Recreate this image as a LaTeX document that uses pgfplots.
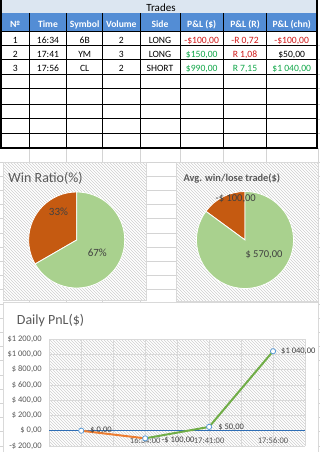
\documentclass[border=0pt]{standalone}
\usepackage{pgfplots}
\usepackage{pgfplotstable}
\pgfplotsset{compat=1.18}
\usepackage{fontspec}
\setmainfont{Carlito}
\usetikzlibrary{patterns}

\definecolor{hdrblue}{HTML}{538DD5}
\definecolor{ttlblue}{HTML}{DCE6F1}
\definecolor{pgreen}{HTML}{A9D18E}
\definecolor{porange}{HTML}{C55A11}
\definecolor{gridg}{HTML}{D9D9D9}
\definecolor{sheetg}{HTML}{D4D4D4}
\definecolor{hatchc}{HTML}{CFCFCF}
\definecolor{txtgray}{HTML}{595959}
\definecolor{lblgray}{HTML}{404040}
\definecolor{negred}{HTML}{D01818}
\definecolor{posgreen}{HTML}{12A84A}
\definecolor{axblue}{HTML}{2F6EB5}
\definecolor{mkblue}{HTML}{5B9BD5}
\definecolor{lorange}{HTML}{ED7D31}
\definecolor{lgreen}{HTML}{70AD47}

\pgfplotstableread{
label value
Win 2
Lose 1
}\winratio
\pgfplotstableread{
label value
Win 570
Lose 100
}\avgtrade

\newcommand{\tf}{\fontsize{9.6}{10}\selectfont}

\begin{document}
\begin{tikzpicture}
\path[use as bounding box] (0,0) rectangle (320pt,-452pt);
\clip (0,0) rectangle (320pt,-452pt);
\fill[white] (0,0) rectangle (320pt,-452pt);
\begin{scope}[x=1pt,y=-1pt]
  % sheet gridlines
  \foreach \yy in {45.5,59.7,74,88.5,104,118.8,133.2}
    \draw[sheetg, line width=0.6pt] (317,\yy) -- (320,\yy);
  \foreach \k in {1,...,21}
    \draw[sheetg, line width=0.6pt] (0,{147.7+\k*14.2}) -- (320,{147.7+\k*14.2});
  \foreach \xx in {29.3,66.7,102.7,140,180,223.3,266.7,318.5}
    \draw[sheetg, line width=0.6pt] (\xx,147.7) -- (\xx,452);
  % table
  \fill[ttlblue] (1,0) rectangle (317,13.5);
  \fill[hdrblue] (1,13.5) rectangle (317,31);
  \node[font=\fontsize{11}{12}\selectfont, anchor=base, inner sep=0pt] at (161,11.3) {Trades};
  \foreach \yy in {31,45.5,59.7,74,88.5,104,118.8,133.2}
    \draw[black, line width=0.8pt] (1,\yy) -- (317,\yy);
  \foreach \xx in {29.3,66.7,102.7,140,180,223.3,266.7}
    \draw[black, line width=0.8pt] (\xx,13.5) -- (\xx,147.7);
  \draw[black, line width=2.4pt] (1.2,0) -- (1.2,148.8);
  \draw[black, line width=2.2pt] (316.8,0) -- (316.8,148.8);
  \draw[black, line width=2.2pt] (0,147.7) -- (317.9,147.7);
  % header
  \foreach \xx/\tt in {15.2/№,48/Time,84.7/Symbol,121.3/Volume,160/Side,201.7/P\&L (\$),245/P\&L (R),291.7/P\&L (chn)}
    \node[font=\tf\bfseries, text=white, anchor=base, inner sep=0pt] at (\xx,27.8) {\tt};
  % rows
  \foreach \yy/\a/\b/\c/\d/\e/\f/\g/\h in {
     43.3/1/16:34/6B/2/LONG/{\color{negred}-\$100,00}/{\color{negred}-R 0,72}/{\color{negred}-\$100,00},
     57.5/2/17:41/YM/3/LONG/{\color{posgreen}\$150,00}/{\color{negred}R 1,08}/{\$50,00},
     71.7/3/17:56/CL/2/SHORT/{\color{posgreen}\$990,00}/{\color{posgreen}R 7,15}/{\color{posgreen}\$1 040,00}}
  {
    \node[font=\tf, anchor=base, inner sep=0pt] at (15.2,\yy) {\a};
    \node[font=\tf, anchor=base, inner sep=0pt] at (48,\yy) {\b};
    \node[font=\tf, anchor=base, inner sep=0pt] at (84.7,\yy) {\c};
    \node[font=\tf, anchor=base, inner sep=0pt] at (121.3,\yy) {\d};
    \node[font=\tf, anchor=base, inner sep=0pt] at (160,\yy) {\e};
    \node[font=\tf, anchor=base, inner sep=0pt] at (201.7,\yy) {\f};
    \node[font=\tf, anchor=base, inner sep=0pt] at (245,\yy) {\g};
    \node[font=\tf, anchor=base, inner sep=0pt] at (291.7,\yy) {\h};
  }
  % chart boxes
  \path[fill=white] (3.5,162.5) rectangle (146.7,300.7);
  \path[pattern=north west lines, pattern color=hatchc, draw=gridg, line width=0.6pt] (3.5,162.5) rectangle (146.7,300.7);
  \path[fill=white] (176.7,162.5) rectangle (318,301.5);
  \path[pattern=north west lines, pattern color=hatchc, draw=gridg, line width=0.6pt] (176.7,162.5) rectangle (318,301.5);
  \path[fill=white, draw=gridg, line width=0.6pt] (3.3,302.3) rectangle (318,460);
  % titles
  \node[font=\fontsize{14}{15}\selectfont, text=txtgray, anchor=base west, inner sep=0pt] at (8.3,182) {Win Ratio(\%)};
  \node[font=\fontsize{10.4}{11}\selectfont\bfseries, text=txtgray, anchor=base west, inner sep=0pt] at (183.3,181.5) {Avg. win/lose trade(\$)};
  \node[font=\fontsize{14}{15}\selectfont, text=txtgray, anchor=base west, inner sep=0pt] at (16.7,324) {Daily PnL(\$)};
\end{scope}

% ---- Win ratio pie
\pgfplotstablegetelem{0}{value}\of\winratio \pgfmathsetmacro{\wA}{\pgfplotsretval}
\pgfplotstablegetelem{1}{value}\of\winratio \pgfmathsetmacro{\wB}{\pgfplotsretval}
\pgfmathsetmacro{\wAng}{90+360*(\wB/(\wA+\wB))}
\begin{axis}[at={(76.7pt,-240pt)}, anchor=center, x=1pt, y=1pt,
  xmin=-50, xmax=50, ymin=-50, ymax=50, hide axis, clip=false]
  \path[fill=porange, draw=white, line width=0.8pt] (axis cs:0,0) -- (axis cs:0,48) arc[start angle=90, end angle=\wAng, radius=48pt] -- cycle;
  \path[fill=pgreen, draw=white, line width=0.8pt] (axis cs:0,0) -- (axis cs:{48*cos(\wAng)},{48*sin(\wAng)}) arc[start angle=\wAng, end angle=450, radius=48pt] -- cycle;
\end{axis}

% ---- Avg win/lose pie
\pgfplotstablegetelem{0}{value}\of\avgtrade \pgfmathsetmacro{\aA}{\pgfplotsretval}
\pgfplotstablegetelem{1}{value}\of\avgtrade \pgfmathsetmacro{\aB}{\pgfplotsretval}
\pgfmathsetmacro{\aAng}{90+360*(\aB/(\aA+\aB))}
\begin{axis}[at={(245pt,-240pt)}, anchor=center, x=1pt, y=1pt,
  xmin=-50, xmax=50, ymin=-50, ymax=50, hide axis, clip=false]
  \path[fill=porange, draw=white, line width=0.8pt] (axis cs:0,0) -- (axis cs:0,48.5) arc[start angle=90, end angle=\aAng, radius=48.5pt] -- cycle;
  \path[fill=pgreen, draw=white, line width=0.8pt] (axis cs:0,0) -- (axis cs:{48.5*cos(\aAng)},{48.5*sin(\aAng)}) arc[start angle=\aAng, end angle=450, radius=48.5pt] -- cycle;
\end{axis}

\begin{scope}[x=1pt,y=-1pt]
  \node[font=\fontsize{11}{12}\selectfont, text=lblgray] at (58.5,211.7) {33\%};
  \node[font=\fontsize{11}{12}\selectfont, text=lblgray] at (97.3,252.3) {67\%};
  \node[font=\fontsize{10.5}{11}\selectfont, text=lblgray] at (235.7,199) {-\$ 100,00};
  \node[font=\fontsize{10.5}{11}\selectfont, text=lblgray] at (264,255) {\$ 570,00};
\end{scope}

% ---- Daily PnL
\begin{axis}[
  at={(49.3pt,-446pt)}, anchor=south west,
  scale only axis, width=255.7pt, height=107pt,
  xmin=-0.5, xmax=3.5, ymin=-200, ymax=1200,
  xtick={0,1,2,3}, xticklabels={{},16:34:00,17:41:00,17:56:00},
  minor xtick={-0.5,0.5,1.5,2.5,3.5},
  ytick={-200,0,...,1200},
  yticklabels={{-\$ 200,00},{\$ 0,00},{\$ 200,00},{\$ 400,00},{\$ 600,00},{\$ 800,00},{\$1 000,00},{\$1 200,00}},
  extra y ticks={0}, extra y tick labels={},
  extra y tick style={grid=major, major grid style={axblue, line width=0.9pt}},
  xmajorgrids, xminorgrids, ymajorgrids,
  major grid style={gridg, line width=0.6pt}, minor grid style={gridg, line width=0.6pt},
  axis line style={draw=none}, major tick length=0pt, minor tick length=0pt,
  axis background/.style={pattern=north west lines, pattern color=hatchc},
  /pgf/number format/assume math mode=true,
  ticklabel style={font=\fontsize{8.5}{9}\selectfont, text=txtgray},
  yticklabel style={xshift=-4pt},
  xticklabel style={anchor=center, yshift=5pt},
  clip=false,
]
  \addplot[lorange, line width=2pt] coordinates {(0,0) (1,-100)};
  \addplot[lgreen, line width=2pt] coordinates {(1,-100) (2,50) (3,1040)};
  \addplot[only marks, mark=*, mark size=2.6pt, mark options={fill=white, draw=mkblue, line width=0.8pt}]
    coordinates {(0,0) (1,-100) (2,50) (3,1040)};
  \node[font=\fontsize{8.5}{9}\selectfont, text=lblgray, anchor=west, inner sep=0pt] at (axis cs:0,0) [xshift=9pt] {\$ 0,00};
  \node[font=\fontsize{8.5}{9}\selectfont, text=lblgray, anchor=west, inner sep=0pt] at (axis cs:1,-100) [xshift=16.5pt, yshift=-2pt] {-\$ 100,00};
  \node[font=\fontsize{8.5}{9}\selectfont, text=lblgray, anchor=west, inner sep=0pt] at (axis cs:2,50) [xshift=9pt] {\$ 50,00};
  \node[font=\fontsize{8.5}{9}\selectfont, text=lblgray, anchor=west, inner sep=0pt] at (axis cs:3,1040) [xshift=8pt] {\$1 040,00};
\end{axis}
\end{tikzpicture}
\end{document}
